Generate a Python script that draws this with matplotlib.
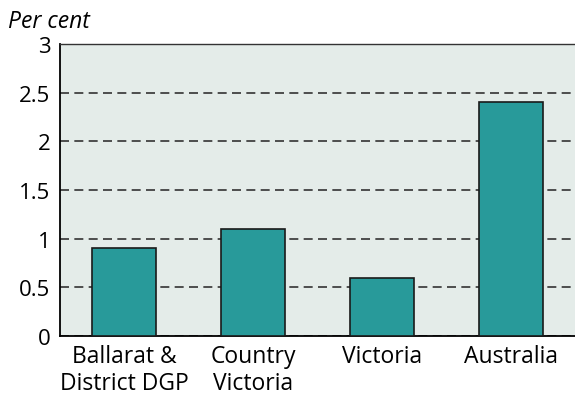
import matplotlib
matplotlib.use("Agg")
import matplotlib.pyplot as plt

# Data
regions = ["Ballarat &\nDistrict DGP", "Country\nVictoria", "Victoria", "Australia"]
values = [0.9, 1.1, 0.6, 2.4]
yticks = [0, 0.5, 1, 1.5, 2, 2.5, 3]
ytick_labels = ["0", "0.5", "1", "1.5", "2", "2.5", "3"]

plt.rcParams['font.family'] = ['Open Sans', 'DejaVu Sans']

fig = plt.figure(figsize=(5.75, 4.06), dpi=100)
ax = fig.add_axes([60/575, 1 - 337/406, 515/575, 292/406])
ax.set_facecolor("#e4ece9")

x = range(len(regions))
ax.bar(x, values, width=0.496, color="#289a9a", edgecolor="#1a1a1a", linewidth=1.2, zorder=3)

ax.set_xlim(-0.5, 3.5)
ax.set_ylim(0, 3)
ax.set_yticks(yticks)
ax.set_yticklabels(ytick_labels)
ax.set_xticks(list(x))
ax.set_xticklabels(regions, linespacing=1.15)
ax.tick_params(axis="x", length=0, labelsize=16.5, colors="black", pad=6)
ax.tick_params(axis="y", length=0, labelsize=16, colors="black", pad=7)

# dashed gridlines
ax.grid(axis="y", linestyle=(0, (5.4, 3.2)), color="#333333", linewidth=1.2, zorder=1)
ax.spines["right"].set_visible(False)
ax.spines["left"].set_linewidth(1.3)
ax.spines["bottom"].set_linewidth(1.3)
ax.spines["top"].set_linewidth(1.0)
ax.spines["top"].set_color("#333333")

fig.text(8/575, 1 - 22/406, "Per cent", fontsize=16.5, style="italic", va="center", ha="left")

fig.savefig("out.png", dpi=100)
